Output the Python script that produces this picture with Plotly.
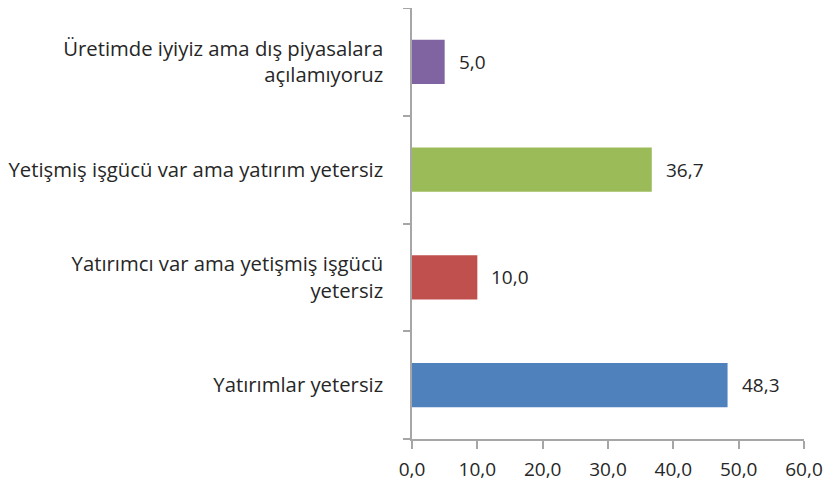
import plotly.graph_objects as go

categories = [
    "Yatırımlar yetersiz",
    "Yatırımcı var ama yetişmiş işgücü<br>yetersiz",
    "Yetişmiş işgücü var ama yatırım yetersiz",
    "Üretimde iyiyiz ama dış piyasalara<br>açılamıyoruz",
]
values = [48.3, 10.0, 36.7, 5.0]
colors = ["#4F81BD", "#C0504D", "#9BBB59", "#8064A2"]
x_ticks = [0, 10, 20, 30, 40, 50, 60]

FONT = "Open Sans"
AXIS = "#A6A6A6"
TXT = "#262626"

fig = go.Figure()
fig.add_trace(go.Bar(
    y=categories, x=values, orientation="h",
    marker=dict(color=colors, line=dict(width=0)),
    width=0.41, showlegend=False, hoverinfo="skip",
))

for c, v in zip(categories, values):
    fig.add_annotation(
        x=v, y=c, text=f"{v:.1f}".replace(".", ","),
        xanchor="left", yanchor="middle", xshift=12, showarrow=False,
        font=dict(family=FONT, size=19, color=TXT),
    )

# page body has an 8px default margin; compensate so the plot area sits where the reference has it
fig.update_layout(
    width=834, height=482,
    margin=dict(l=404, r=38, t=0, b=51),
    paper_bgcolor="white", plot_bgcolor="white",
    separators=",.",
    font=dict(family=FONT, size=19, color=TXT),
)
fig.update_xaxes(
    range=[0, 60], tickvals=x_ticks, tickformat=".1f",
    showgrid=False, zeroline=False, automargin=False,
    showline=True, linecolor=AXIS, linewidth=1.5,
    ticks="outside", ticklen=8, tickcolor=AXIS, tickwidth=1.5,
    ticklabelstandoff=4,
    tickfont=dict(family=FONT, size=19, color=TXT),
)
fig.update_yaxes(
    categoryorder="array", categoryarray=categories,
    showgrid=False, zeroline=False, automargin=False,
    showline=True, linecolor=AXIS, linewidth=1.5,
    ticks="outside", ticklen=7, tickcolor=AXIS, tickwidth=1.5,
    tickson="boundaries", ticklabelstandoff=23,
    tickfont=dict(family=FONT, size=20.3, color=TXT),
)

fig.write_html("out.html")
